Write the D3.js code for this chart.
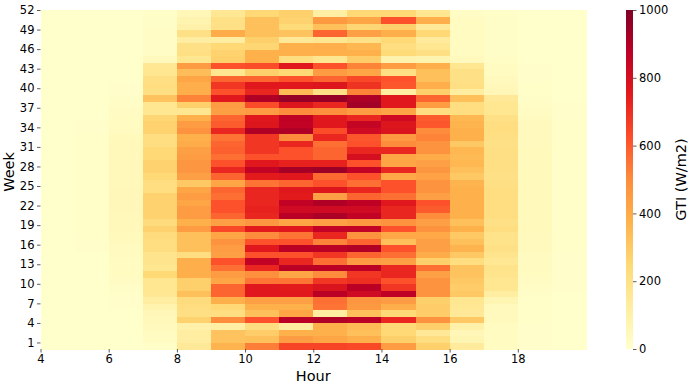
<!DOCTYPE html>
<html>
<head>
<meta charset="utf-8">
<script src="https://cdn.jsdelivr.net/npm/d3@7"></script>
<style>
  html, body { margin: 0; padding: 0; background: #ffffff; }
  svg { display: block; }
  text { font-family: "DejaVu Sans", sans-serif; fill: #000; }
</style>
</head>
<body>
<svg id="chart" width="694" height="387"></svg>
<script>
// ---------------- data ----------------
const hours = [4, 5, 6, 7, 8, 9, 10, 11, 12, 13, 14, 15, 16, 17, 18, 19];
const weeks = d3.range(1, 53);
// GTI (W/m2) per week (rows, week 1..52), per hour (columns, 4..19)
const gtiByWeek = [
  [0,0,2,10,150,370,530,650,650,640,450,280,140,30,5,0],
  [0,0,2,30,120,320,330,450,420,390,280,220,70,30,5,0],
  [0,0,2,30,120,320,290,380,380,330,250,150,60,30,5,0],
  [0,0,2,40,100,110,220,130,380,350,250,280,100,30,5,0],
  [0,0,3,50,270,500,620,880,900,880,720,480,300,40,8,2],
  [0,0,3,60,210,220,330,420,120,330,250,290,150,40,8,2],
  [0,0,4,80,220,250,380,380,550,460,390,290,160,40,10,2],
  [0,0,5,120,230,380,440,440,560,470,450,280,170,70,10,2],
  [0,1,8,160,330,580,760,760,880,820,870,480,300,120,15,3],
  [0,1,15,170,280,580,760,750,780,880,680,480,290,170,20,4],
  [0,2,25,170,280,420,550,550,680,700,620,480,300,170,25,5],
  [0,2,30,250,390,450,490,420,500,680,720,440,320,180,30,5],
  [0,3,30,170,390,560,720,880,880,880,720,560,320,190,35,6],
  [0,3,30,180,390,620,860,720,560,450,440,280,220,160,35,6],
  [0,3,35,180,220,440,620,620,680,580,560,400,300,180,35,6],
  [0,4,35,220,330,450,760,880,880,900,620,440,370,200,40,8],
  [0,4,40,220,330,480,620,620,520,580,330,440,330,190,40,8],
  [0,10,45,230,330,420,500,550,720,480,410,410,300,190,40,8],
  [0,12,50,270,450,640,750,760,860,860,620,480,380,220,45,10],
  [0,12,50,230,380,440,470,420,440,460,480,440,330,200,45,10],
  [0,12,50,270,450,580,720,880,910,860,720,500,380,220,45,10],
  [0,12,55,270,450,620,730,820,820,820,720,600,380,220,45,10],
  [0,12,55,270,420,620,720,860,900,870,760,620,380,220,45,10],
  [0,12,55,270,450,560,720,750,440,580,560,440,380,220,45,10],
  [0,12,55,220,420,580,720,760,770,720,620,480,380,220,45,10],
  [0,12,50,220,300,420,550,580,620,560,620,480,370,210,45,10],
  [0,12,50,250,440,580,750,760,570,620,410,430,300,200,45,10],
  [0,12,50,270,470,720,860,920,940,860,720,470,330,210,45,10],
  [0,12,50,270,470,620,760,730,730,620,420,440,360,210,45,10],
  [0,12,50,250,450,560,620,620,580,800,420,400,350,210,45,10],
  [0,12,50,250,440,590,680,620,580,720,720,480,360,210,45,10],
  [0,12,50,220,400,580,680,720,560,620,500,480,300,200,40,10],
  [0,10,45,220,380,550,680,500,720,610,460,520,380,210,40,8],
  [0,5,35,270,480,720,900,900,630,820,780,500,380,220,40,8],
  [0,4,30,270,450,600,770,860,760,850,770,610,370,220,40,8],
  [0,3,30,260,380,580,760,870,760,720,820,600,360,200,35,6],
  [0,2,25,170,170,440,450,500,490,450,420,220,220,170,25,5],
  [0,2,20,170,280,450,630,770,720,930,760,450,220,170,20,4],
  [0,1,15,320,520,760,900,960,960,910,760,580,330,150,15,3],
  [0,0,5,210,390,620,720,350,200,520,120,280,120,60,8,2],
  [0,0,4,220,390,680,760,760,770,690,610,390,210,50,8,2],
  [0,0,3,210,420,580,580,620,580,640,620,330,200,40,6,2],
  [0,0,3,170,340,170,280,250,450,420,210,330,200,30,5,1],
  [0,0,2,160,450,620,630,760,620,520,450,390,170,30,5,1],
  [0,0,2,40,170,280,380,220,170,290,90,80,40,20,3,0],
  [0,0,1,20,210,270,380,380,380,380,240,210,30,15,2,0],
  [0,0,1,20,200,250,260,380,390,360,220,170,30,15,2,0],
  [0,0,1,20,120,120,280,150,170,200,250,140,30,15,2,0],
  [0,0,1,20,200,400,330,320,580,440,390,250,30,15,2,0],
  [0,0,1,15,100,200,330,240,330,260,280,150,30,15,2,0],
  [0,0,1,15,80,200,330,270,460,420,620,390,30,15,2,0],
  [0,0,1,10,60,160,250,280,110,250,250,170,20,10,2,0]
];
const hourTicks = [4, 6, 8, 10, 12, 14, 16, 18];
const weekTicks = [1, 4, 7, 10, 13, 16, 19, 22, 25, 28, 31, 34, 37, 40, 43, 46, 49, 52];
const colorTicks = [0, 200, 400, 600, 800, 1000];
// matplotlib YlOrRd anchor colours
const ylOrRd = ["#ffffcc","#ffeda0","#fed976","#feb24c","#fd8d3c","#fc4e2a","#e31a1c","#bd0026","#800026"];
const xLabel = "Hour";
const yLabel = "Week";
const cbLabel = "GTI (W/m2)";

// ---------------- layout ----------------
const svg = d3.select("#chart");
const plot = { left: 40.5, right: 586, top: 10, bottom: 349 };
const cb = { left: 626, right: 633, top: 10, bottom: 349 };

const x = d3.scaleLinear().domain([4, 20]).range([plot.left, plot.right]);
const y = d3.scaleLinear().domain([0, 52]).range([plot.bottom, plot.top]);
const vmax = 1000;
const color = d3.scaleLinear()
  .domain(ylOrRd.map((c, i) => i * vmax / (ylOrRd.length - 1)))
  .range(ylOrRd)
  .interpolate(d3.interpolateRgb)
  .clamp(true);

// ---------------- cells ----------------
const cells = [];
gtiByWeek.forEach((row, wi) => {
  row.forEach((v, hi) => cells.push({ week: weeks[wi], hour: hours[hi], v }));
});

svg.append("g")
  .attr("shape-rendering", "crispEdges")
  .selectAll("rect")
  .data(cells)
  .join("rect")
  .attr("x", d => x(d.hour))
  .attr("y", d => y(d.week))
  .attr("width", d => x(d.hour + 1) - x(d.hour) + 0.5)
  .attr("height", d => y(d.week - 1) - y(d.week) + 0.5)
  .attr("fill", d => color(d.v));

// ---------------- axes ----------------
const xAxis = svg.append("g")
  .attr("transform", `translate(0,${plot.bottom})`)
  .call(d3.axisBottom(x).tickValues(hourTicks).tickFormat(d3.format("d")).tickSize(3.5).tickPadding(2));
const yAxis = svg.append("g")
  .attr("transform", `translate(${plot.left},0)`)
  .call(d3.axisLeft(y).tickValues(weekTicks).tickFormat(d3.format("d")).tickSize(3.5).tickPadding(2.5));
[xAxis, yAxis].forEach(g => {
  g.select(".domain").remove();
  g.selectAll(".tick line").attr("stroke", "#333").attr("stroke-width", 0.8);
  g.selectAll(".tick text").attr("font-size", "11.5px").attr("font-family", "DejaVu Sans, sans-serif").attr("fill", "#000");
});

svg.append("text")
  .attr("x", (plot.left + plot.right) / 2)
  .attr("y", 381)
  .attr("text-anchor", "middle")
  .attr("font-size", "14.5px")
  .text(xLabel);

svg.append("text")
  .attr("transform", `translate(14,172) rotate(-90)`)
  .attr("text-anchor", "middle")
  .attr("font-size", "14.5px")
  .text(yLabel);

// ---------------- colorbar ----------------
const defs = svg.append("defs");
const grad = defs.append("linearGradient")
  .attr("id", "cbgrad")
  .attr("x1", "0").attr("y1", "1").attr("x2", "0").attr("y2", "0");
ylOrRd.forEach((c, i) => {
  grad.append("stop").attr("offset", i / (ylOrRd.length - 1)).attr("stop-color", c);
});
svg.append("rect")
  .attr("x", cb.left)
  .attr("y", cb.top)
  .attr("width", cb.right - cb.left)
  .attr("height", cb.bottom - cb.top)
  .attr("fill", "url(#cbgrad)");

const cScale = d3.scaleLinear().domain([0, vmax]).range([cb.bottom, cb.top]);
const cAxis = svg.append("g")
  .attr("transform", `translate(${cb.right},0)`)
  .call(d3.axisRight(cScale).tickValues(colorTicks).tickFormat(d3.format("d")).tickSize(3.5).tickPadding(2.5));
cAxis.select(".domain").remove();
cAxis.selectAll(".tick line").attr("stroke", "#333").attr("stroke-width", 0.8);
cAxis.selectAll(".tick text").attr("font-size", "11.5px").attr("font-family", "DejaVu Sans, sans-serif").attr("fill", "#000");

svg.append("text")
  .attr("transform", `translate(686,${(cb.top + cb.bottom) / 2}) rotate(-90)`)
  .attr("text-anchor", "middle")
  .attr("font-size", "14.5px")
  .text(cbLabel);
</script>
</body>
</html>
